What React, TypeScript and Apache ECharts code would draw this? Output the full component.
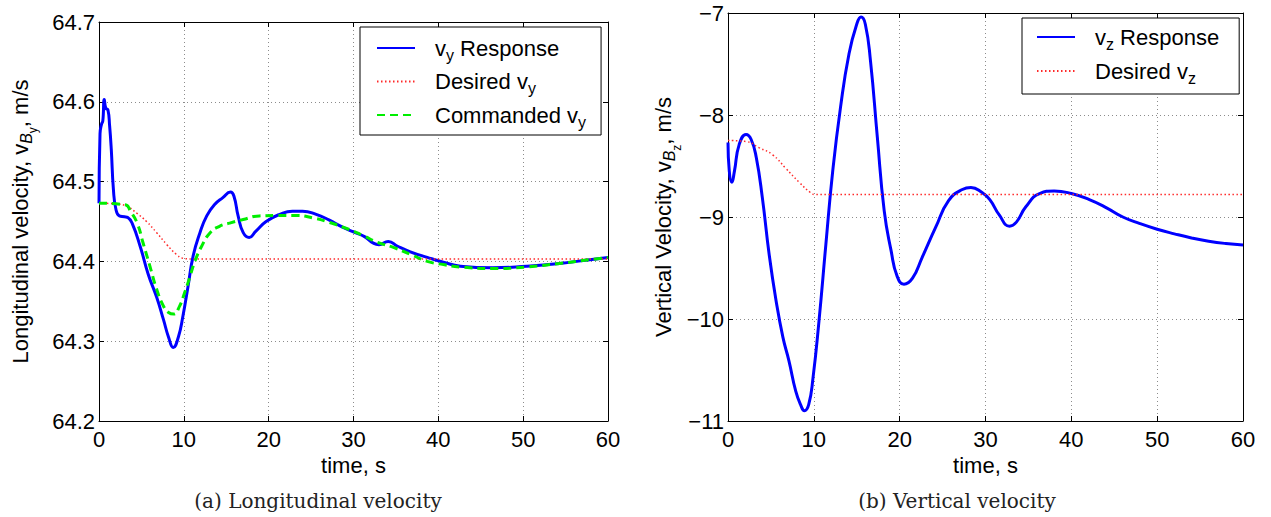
import React, { useEffect, useRef } from "react";
import * as echarts from "echarts";

// ---- data (time in s, velocity in m/s) ----
const timeTicks = [0, 10, 20, 30, 40, 50, 60];
const vyTicks = [64.2, 64.3, 64.4, 64.5, 64.6, 64.7];
const vzTicks = [-11, -10, -9, -8, -7];

const vyResponse: number[][] = [
  [0, 64.473], [0.12, 64.56], [0.3, 64.572], [0.45, 64.576], [0.62, 64.603], [0.8, 64.592],
  [1.05, 64.59], [1.25, 64.57], [1.45, 64.54], [1.7, 64.49], [2.0, 64.465], [2.4, 64.457],
  [3.0, 64.456], [3.4, 64.455], [3.9, 64.448], [4.85, 64.419], [5.8, 64.384], [6.8, 64.355],
  [7.6, 64.327], [8.2, 64.305], [8.75, 64.292], [9.35, 64.305], [9.9, 64.332], [10.5, 64.369],
  [11.1, 64.407], [11.9, 64.436], [12.7, 64.457], [13.6, 64.471], [14.6, 64.48], [15.5, 64.487],
  [15.9, 64.482], [16.4, 64.457], [17.0, 64.436], [17.7, 64.43], [18.5, 64.438], [19.7, 64.45],
  [21.3, 64.459], [22.8, 64.463], [24.0, 64.463], [25.6, 64.459], [27.1, 64.452], [28.7, 64.443],
  [30.2, 64.436], [31.3, 64.431], [32.4, 64.4225], [33.0, 64.421], [34.1, 64.425], [35.2, 64.419],
  [36.7, 64.412], [38.7, 64.405], [40.6, 64.399], [42.6, 64.394], [46.4, 64.392], [50.4, 64.394],
  [54.3, 64.3975], [58.1, 64.4025], [60, 64.405],
];

const vyDesired: number[][] = [
  [0, 64.473], [2.1, 64.472], [3.3, 64.469], [4.5, 64.46], [5.6, 64.45], [6.8, 64.436],
  [8.0, 64.421], [9.1, 64.409], [9.9, 64.404], [11, 64.403], [60, 64.403],
];

const vyCommanded: number[][] = [
  [0, 64.473], [3.1, 64.471], [3.7, 64.463], [4.5, 64.448], [5.2, 64.423], [6.0, 64.394],
  [6.8, 64.365], [7.6, 64.344], [8.2, 64.336], [8.8, 64.334], [9.5, 64.344], [10.1, 64.361],
  [10.7, 64.38], [11.3, 64.4], [12.1, 64.419], [13.1, 64.436], [14.2, 64.444], [15.4, 64.448],
  [17.0, 64.4525], [18.9, 64.457], [20.9, 64.4575], [23.2, 64.4575], [25.2, 64.4545], [27.1, 64.449],
  [29.5, 64.44], [31.2, 64.432], [32.8, 64.424], [34.7, 64.4175], [36.7, 64.409], [38.7, 64.4],
  [40.6, 64.396], [42.6, 64.393], [46.4, 64.391], [50.4, 64.393], [54.3, 64.3975], [58.1, 64.4025],
  [60, 64.405],
];

const vzResponse: number[][] = [
  [0, -8.27], [0.15, -8.55], [0.45, -8.66], [0.75, -8.55], [1.3, -8.29], [2.1, -8.19],
  [2.7, -8.24], [3.3, -8.42], [4.0, -8.81], [4.8, -9.37], [5.6, -9.82], [6.4, -10.18],
  [7.1, -10.41], [7.9, -10.71], [8.5, -10.85], [8.9, -10.9], [9.4, -10.84], [9.9, -10.58],
  [10.6, -10.02], [11.4, -9.27], [12.2, -8.55], [13.1, -7.93], [14.1, -7.4], [15.0, -7.11],
  [15.5, -7.04], [16.0, -7.11], [16.6, -7.47], [17.4, -8.22], [18.2, -8.94], [19.0, -9.33],
  [19.7, -9.58], [20.5, -9.66], [21.5, -9.6], [22.6, -9.4], [24.2, -9.1], [25.7, -8.84],
  [27.3, -8.73], [28.3, -8.71], [29.6, -8.76], [30.5, -8.83], [31.6, -8.98], [32.8, -9.09],
  [33.6, -9.05], [34.7, -8.9], [36.3, -8.77], [38.0, -8.745], [40.0, -8.77], [42.1, -8.83],
  [44.1, -8.91], [46.0, -9.0], [48.0, -9.065], [50.0, -9.12], [52.0, -9.165], [54.0, -9.205],
  [56.0, -9.237], [58.0, -9.26], [60, -9.275],
];

const vzDesired: number[][] = [
  [0, -8.25], [2.1, -8.26], [3.6, -8.32], [5.2, -8.39], [6.7, -8.52], [8.3, -8.66],
  [9.6, -8.76], [10.2, -8.78], [60, -8.78],
];

const legendLeft = ["vy Response", "Desired vy", "Commanded vy"];
const legendRight = ["vz Response", "Desired vz"];
const legendRich: Record<string, string> = {
  "vy Response": "{n|v}{s|y}{n| Response}",
  "Desired vy": "{n|Desired v}{s|y}",
  "Commanded vy": "{n|Commanded v}{s|y}",
  "vz Response": "{n|v}{s|z}{n| Response}",
  "Desired vz": "{n|Desired v}{s|z}",
};

const FONT = "'Liberation Sans', Arial, Helvetica, sans-serif";
const BLUE = "#0000ff";
const RED = "#ff2a2a";
const GREEN = "#00ee00";

function xAxes(gridIndex: number) {
  const min = timeTicks[0];
  const max = timeTicks[timeTicks.length - 1];
  const interval = timeTicks[1] - timeTicks[0];
  return [
    {
      gridIndex, type: "value", min, max, interval, position: "bottom",
      axisLine: { show: true, onZero: false, lineStyle: { color: "#000", width: 1 } },
      axisTick: { show: true, inside: true, length: 5, lineStyle: { color: "#000" } },
      axisLabel: { color: "#000", fontSize: 22, fontFamily: FONT, margin: 7 },
      splitLine: { show: true, lineStyle: { color: "#8c8c8c", width: 1, type: [1, 3] } },
      name: "time, s", nameLocation: "middle", nameGap: 26,
      nameTextStyle: { color: "#000", fontSize: 22, fontFamily: FONT, verticalAlign: "top" },
    },
    {
      gridIndex, type: "value", min, max, interval, position: "top",
      axisLine: { show: true, onZero: false, lineStyle: { color: "#000", width: 1 } },
      axisTick: { show: true, inside: true, length: 5, lineStyle: { color: "#000" } },
      axisLabel: { show: false },
      splitLine: { show: false },
    },
  ];
}

function yAxes(gridIndex: number, ticks: number[], fmt: (v: number) => string, name: string, nameGap: number) {
  const min = ticks[0];
  const max = ticks[ticks.length - 1];
  const interval = Math.round((ticks[1] - ticks[0]) * 1000) / 1000;
  return [
    {
      gridIndex, type: "value", min, max, interval, position: "left",
      axisLine: { show: true, onZero: false, lineStyle: { color: "#000", width: 1 } },
      axisTick: { show: true, inside: true, length: 5, lineStyle: { color: "#000" } },
      axisLabel: { color: "#000", fontSize: 22, fontFamily: FONT, margin: 4, formatter: fmt },
      splitLine: { show: true, lineStyle: { color: "#8c8c8c", width: 1, type: [1, 3] } },
      name, nameLocation: "middle", nameRotate: 90, nameGap,
      nameTextStyle: {
        color: "#000", fontSize: 22, fontFamily: FONT,
        rich: {
          n: { fontSize: 22, fontFamily: FONT, color: "#000", lineHeight: 30 },
          b: { fontSize: 16, fontFamily: FONT, color: "#000", fontStyle: "italic", lineHeight: 30, padding: [12, 0, 0, 0] },
          s: { fontSize: 12, fontFamily: FONT, color: "#000", lineHeight: 30, padding: [26, 0, 0, 0] },
        },
      },
    },
    {
      gridIndex, type: "value", min, max, interval, position: "right",
      axisLine: { show: true, onZero: false, lineStyle: { color: "#000", width: 1 } },
      axisTick: { show: true, inside: true, length: 5, lineStyle: { color: "#000" } },
      axisLabel: { show: false },
      splitLine: { show: false },
    },
  ];
}

function legendCfg(data: string[], left: number, top: number, padding: number[], itemGap: number) {
  return {
    data, left, top, orient: "vertical", padding, itemGap,
    itemWidth: 38, itemHeight: 14, selectedMode: false,
    backgroundColor: "#fff", borderColor: "#000", borderWidth: 1, borderRadius: 0,
    itemStyle: { opacity: 0, borderWidth: 0 },
    formatter: (nm: string) => legendRich[nm] || nm,
    textStyle: {
      color: "#000", fontSize: 22, fontFamily: FONT, padding: [0, 0, 0, 15],
      rich: {
        n: { fontSize: 22, fontFamily: FONT, color: "#000", lineHeight: 26 },
        s: { fontSize: 16, fontFamily: FONT, color: "#000", lineHeight: 26, padding: [14, 0, 0, 0] },
      },
    },
  };
}

export default function App() {
  const ref = useRef<HTMLDivElement>(null);
  useEffect(() => {
    const chart = echarts.init(ref.current!, null, { renderer: "svg" });
    const leftFmt = (v: number) => v.toFixed(1);
    const rightFmt = (v: number) => (v < 0 ? "\u2212" : "") + Math.abs(v).toString();
    const line = (name: string, data: number[][], xi: number, yi: number, color: string, width: number, type: any) => ({
      name, type: "line", data, xAxisIndex: xi, yAxisIndex: yi,
      showSymbol: false, symbol: "none", smooth: 0.5,
      lineStyle: { color, width, type }, itemStyle: { color },
      emphasis: { disabled: true }, silent: true,
    });
    chart.setOption({
      animation: false,
      backgroundColor: "#fff",
      grid: [
        { left: 97, top: 22, width: 511, height: 399, containLabel: false },
        { left: 728, top: 13, width: 515, height: 408, containLabel: false },
      ],
      xAxis: [...xAxes(0), ...xAxes(1)],
      yAxis: [
        ...yAxes(0, vyTicks, leftFmt, "{n|Longitudinal velocity, v}{b|B}{s|y}{n|, m/s}", 64),
        ...yAxes(1, vzTicks, rightFmt, "{n|Vertical Velocity, v}{b|B}{s|z}{n|, m/s}", 45),
      ],
      legend: [
        legendCfg(legendLeft, 360, 27, [6, 15, 5, 16], 3.5),
        legendCfg(legendRight, 1022, 18, [4, 20, 8, 14], 4),
      ],
      series: [
        line("vy Response", vyResponse, 0, 0, BLUE, 3, "solid"),
        line("Desired vy", vyDesired, 0, 0, RED, 1.5, [1.5, 2.5]),
        line("Commanded vy", vyCommanded, 0, 0, GREEN, 3, [8, 5]),
        line("vz Response", vzResponse, 2, 2, BLUE, 3, "solid"),
        line("Desired vz", vzDesired, 2, 2, RED, 1.5, [1.5, 2.5]),
      ],
      graphic: [
        {
          type: "text", x: 318, y: 501,
          style: { text: "(a) Longitudinal velocity", fontSize: 20, fontFamily: "'DejaVu Serif', serif", fill: "#222", align: "center", verticalAlign: "middle" },
        },
        {
          type: "text", x: 957, y: 501,
          style: { text: "(b) Vertical velocity", fontSize: 20, fontFamily: "'DejaVu Serif', serif", fill: "#222", align: "center", verticalAlign: "middle" },
        },
      ],
    });
    return () => chart.dispose();
  }, []);
  return (
    <div
      ref={ref}
      style={{ position: "fixed", left: 0, top: 0, width: 1271, height: 517, background: "#fff" }}
    />
  );
}
